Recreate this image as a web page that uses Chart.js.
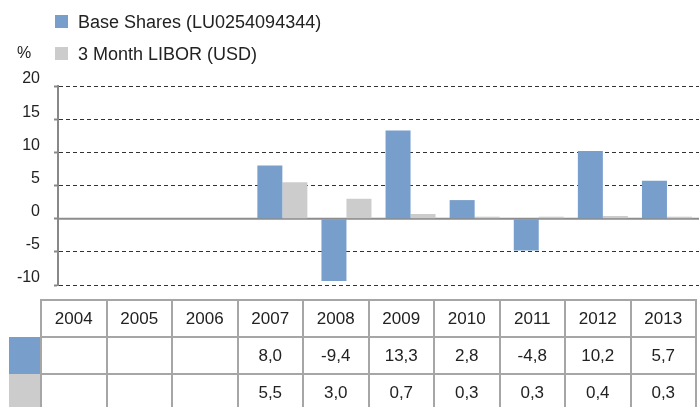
<!DOCTYPE html>
<html>
<head>
<meta charset="utf-8">
<script src="https://cdn.jsdelivr.net/npm/chart.js@4/dist/chart.umd.min.js"></script>
<style>
  body { margin: 0; background: #fff; font-family: "Liberation Sans", Arial, sans-serif; color: #222; }
  #wrap { position: relative; width: 699px; height: 407px; overflow: hidden; }
  #chartBox { position: absolute; left: 0; top: 0; width: 699px; height: 300px; }
  .legend { position: absolute; left: 55px; font-size: 18px; white-space: nowrap; }
  .legend span.sw { display: inline-block; width: 13px; height: 13px; margin-right: 10px; vertical-align: 0px; }
  #pct { position: absolute; left: 17px; top: 44px; font-size: 16px; }
  #tbl { position: absolute; left: 9px; top: 299px; border-collapse: collapse; font-size: 17px; }
  #tbl td { border: 2px solid #a6a6a6; width: 63.5px; height: 35px; text-align: center; padding: 0; }
  #tbl td.sw { width: 31px; border: none; }
</style>
</head>
<body>
<div id="wrap">
  <div id="chartBox"><canvas id="bar-chart" width="699" height="300"></canvas></div>
  <div id="legend"></div>
  <div id="pct">%</div>
  <table id="tbl"></table>
</div>
<script>
// chart data
var years = ["2004", "2005", "2006", "2007", "2008", "2009", "2010", "2011", "2012", "2013"];
var baseShares = [null, null, null, 8.0, -9.4, 13.3, 2.8, -4.8, 10.2, 5.7];
var libor = [null, null, null, 5.5, 3.0, 0.7, 0.3, 0.3, 0.4, 0.3];
var seriesNames = ["Base Shares (LU0254094344)", "3 Month LIBOR (USD)"];
var seriesColors = ["#789ecb", "#cccccc"];
var yTicks = [20, 15, 10, 5, 0, -5, -10];

// legend
var legendTops = [12, 44];
seriesNames.forEach(function(name, i) {
  var d = document.createElement("div");
  d.className = "legend";
  d.style.top = legendTops[i] + "px";
  d.innerHTML = '<span class="sw" style="background:' + seriesColors[i] + '"></span>' + name;
  document.getElementById("legend").appendChild(d);
});

// data table under the chart
function fmt(v) {
  return v === null ? "" : v.toFixed(1).replace(".", ",");
}
var tbl = document.getElementById("tbl");
var rows = '<tr><td class="sw"></td>';
years.forEach(function(y) { rows += "<td>" + y + "</td>"; });
rows += "</tr>";
[baseShares, libor].forEach(function(arr, i) {
  rows += '<tr><td class="sw" style="background:' + seriesColors[i] + '"></td>';
  arr.forEach(function(v) { rows += "<td>" + fmt(v) + "</td>"; });
  rows += "</tr>";
});
tbl.innerHTML = rows;

// solid zero line
var zeroLine = {
  id: "zeroLine",
  beforeDatasetsDraw: function(chart) {
    var y = chart.scales.y.getPixelForValue(0);
    var ctx = chart.ctx;
    ctx.save();
    ctx.strokeStyle = "#8c8c8c";
    ctx.lineWidth = 2;
    ctx.beginPath();
    ctx.moveTo(chart.chartArea.left, y);
    ctx.lineTo(chart.chartArea.right, y);
    ctx.stroke();
    ctx.restore();
  }
};

new Chart(document.getElementById("bar-chart"), {
  type: "bar",
  data: {
    labels: years,
    datasets: [
      { label: seriesNames[0], data: baseShares, backgroundColor: seriesColors[0] },
      { label: seriesNames[1], data: libor, backgroundColor: seriesColors[1] }
    ]
  },
  options: {
    responsive: false,
    animation: false,
    maintainAspectRatio: false,
    layout: { padding: { top: 86, bottom: 15, left: 0, right: 0 } },
    datasets: { bar: { categoryPercentage: 0.78, barPercentage: 1 } },
    plugins: { legend: { display: false }, tooltip: { enabled: false } },
    scales: {
      x: { display: false },
      y: {
        min: -10,
        max: 20,
        afterFit: function(scale) {
          scale.width = 58;
          scale.paddingTop = 0;
          scale.paddingBottom = 0;
        },
        afterBuildTicks: function(scale) {
          scale.ticks = yTicks.map(function(v) { return { value: v }; });
        },
        ticks: {
          color: "#222",
          font: { family: "Liberation Sans", size: 16 },
          labelOffset: -7,
          padding: 14
        },
        grid: { color: "#333", lineWidth: 1, tickLength: 4, tickColor: "#888", tickWidth: 2 },
        border: { color: "#888", width: 2, dash: [4, 3] }
      }
    }
  },
  plugins: [zeroLine]
});
</script>
</body>
</html>
